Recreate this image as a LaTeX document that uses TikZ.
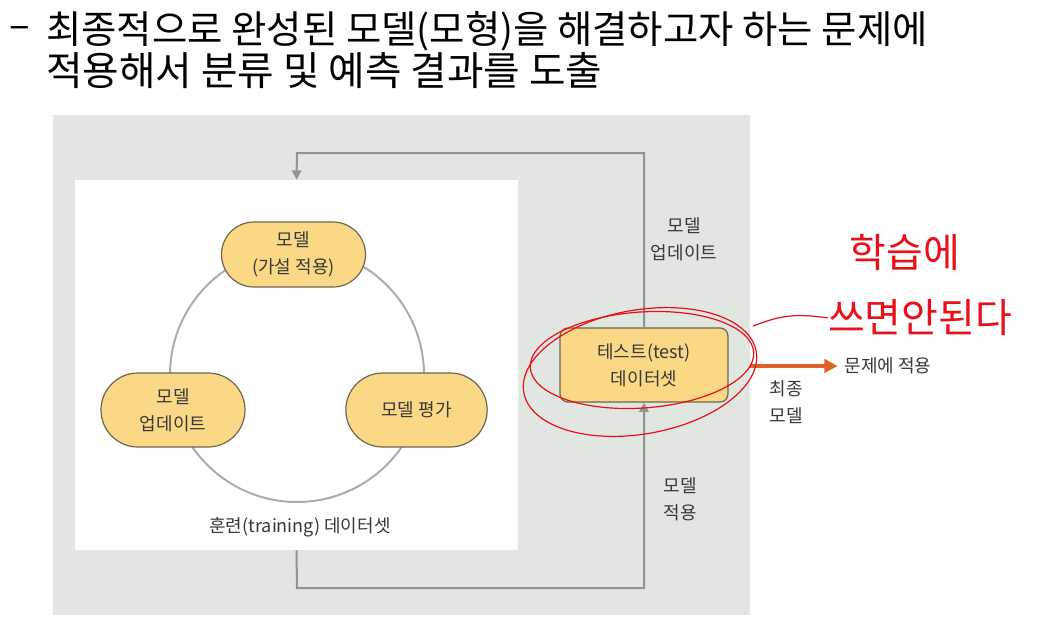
\documentclass[tikz,border=0pt]{standalone}
\usepackage{fontspec}
\newfontfamily\kr{Noto Sans CJK KR}
\usetikzlibrary{arrows.meta,shapes.misc}
\definecolor{bggray}{HTML}{E2E6E0}
\definecolor{linegray}{HTML}{8E9498}
\definecolor{circgray}{HTML}{A9ADB1}
\definecolor{nodefill}{HTML}{FBD886}
\definecolor{nodedraw}{HTML}{6E6650}
\definecolor{txt}{HTML}{383838}
\definecolor{orangeA}{HTML}{E2622C}
\definecolor{pen}{HTML}{E8101A}
\begin{document}
\begin{tikzpicture}[x=0.75pt,y=-0.75pt,
  lbl/.style={font={\kr\fontsize{13.5}{20}\selectfont}, text=txt, align=center, inner sep=1pt},
  pill/.style={lbl, rounded rectangle, draw=nodedraw, line width=0.9pt, fill=nodefill, minimum width=110pt, minimum height=55.5pt},
  testbox/.style={lbl, rectangle, rounded corners=6pt, draw=nodedraw, line width=0.9pt, fill=nodefill, minimum width=126pt, minimum height=55.5pt},
  flow/.style={draw=linegray, line width=1.5pt, -{Triangle[length=7pt,width=7pt]}},
  titlefont/.style={font={\kr\fontsize{28.8}{32}\selectfont}, text=black, inner sep=0pt},
  penline/.style={draw=pen, line width=0.9pt},
  pentext/.style={font={\kr\fontsize{30}{34}\selectfont}, text=pen, inner sep=0pt}]
\useasboundingbox (0,0) rectangle (1037,631);
\fill[white] (0,0) rectangle (1037,631);

% title
\node[titlefont] (dash) at (20,33) {–};
\node[titlefont, anchor=west] (t1) at (46,31) {최종적으로 완성된 모델(모형)을 해결하고자 하는 문제에};
\node[titlefont, anchor=west] (t2) at (46,71) {\fontsize{29.8}{32}\selectfont 적용해서 분류 및 예측 결과를 도출};

% panels
\node[fill=bggray, inner sep=0pt, minimum width=522.75pt, minimum height=375pt] (bg) at (401.5,365) {};
\node[fill=white, inner sep=0pt, minimum width=332.25pt, minimum height=277.5pt] (train) at (296.5,365) {};

% cycle
\node[circle, draw=circgray, line width=1.5pt, minimum size=190.5pt, inner sep=0pt] (cyc) at (297,375) {};
\node[pill, minimum height=48.75pt] (hyp) at (293.5,254.5) {모델\\(가설 적용)};
\node[pill] (upd) at (173,410) {모델\\업데이트};
\node[pill, minimum width=108pt] (eval) at (416.5,410) {모델 평가};
\node[lbl] (trainlbl) at (300,527) {훈련(training) 데이터셋};

% test box
\node[testbox] (test) at (644,365) {테스트(test)\\데이터셋};

% loops
\coordinate (topc) at (297,153);
\coordinate (botc) at (297,588);
\draw[flow] (test.north) |- (topc) -- (train.north);
\draw[flow] (train.south) -- (botc) -| (test.south);
\node[lbl] (updlbl) at (684,239) {모델\\업데이트};
\node[lbl] (applbl) at (680,499) {모델\\적용};

% final
\node[lbl, anchor=west] (apply) at (843,366) {문제에 적용};
\coordinate (astart) at (bg.east |- apply.west);
\draw[draw=orangeA, line width=3pt, -{Triangle[length=10pt,width=10pt]}] (astart) -- ([xshift=-4pt]apply.west);
\node[lbl] (finlbl) at (786,402) {최종\\모델};

% handwriting
\draw[penline, rotate around={10:(640,372)}] (640,372) ellipse [x radius=118, y radius=62];
\draw[penline, rotate around={4:(642,360)}] (642,360) ellipse [x radius=112, y radius=48];
\node[pentext] (hw1) at (905,252) {학습에};
\node[pentext] (hw2) at (920,318) {쓰면안된다};
\coordinate (penA) at (753,326);
\draw[penline] (penA) .. controls (775,318) and (790,312) .. (hw2.west);
\end{tikzpicture}
\end{document}
